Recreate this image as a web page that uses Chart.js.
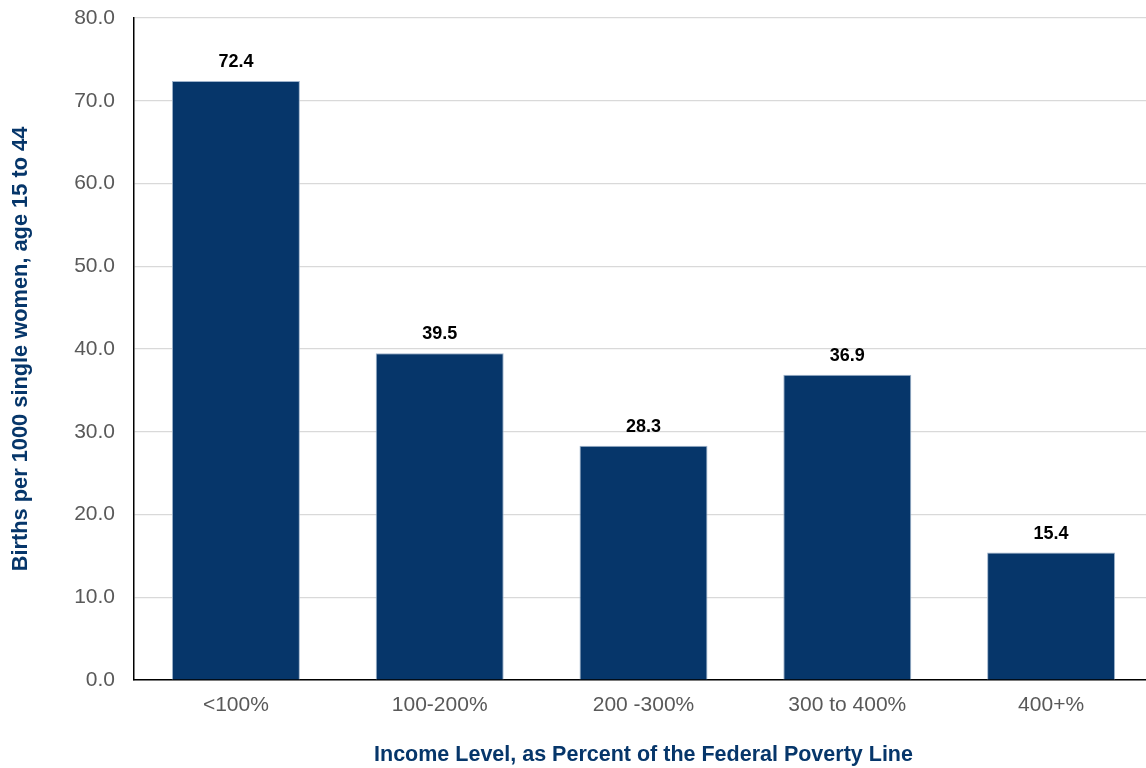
<!DOCTYPE html>
<html>
<head>
<meta charset="utf-8">
<script src="https://cdn.jsdelivr.net/npm/chart.js@4"></script>
<style>
  html, body { margin: 0; padding: 0; background: #fff; overflow: hidden; }
  #wrap { width: 1153px; height: 768px; }
</style>
</head>
<body>
<div id="wrap"><canvas id="grafico"></canvas></div>
<script>
// ===== DADOS =====
const categorias = ["<100%", "100-200%", "200 -300%", "300 to 400%", "400+%"];
const nascimentos = [72.4, 39.5, 28.3, 36.9, 15.4];
const tituloX = "Income Level, as Percent of the Federal Poverty Line";
const tituloY = "Births per 1000 single women, age 15 to 44";

const AZUL = "#06366a";
const FONTE = "'Liberation Sans', Arial, sans-serif";

// rótulos acima das barras
const rotulos = {
  id: "rotulos",
  afterDatasetsDraw(chart) {
    const ctx = chart.ctx;
    const meta = chart.getDatasetMeta(0);
    ctx.save();
    ctx.font = "bold 18px " + FONTE;
    ctx.fillStyle = "#000";
    ctx.textAlign = "center";
    ctx.textBaseline = "middle";
    meta.data.forEach((bar, i) => {
      ctx.fillText(nascimentos[i].toFixed(1), bar.x, bar.y - 19);
    });
    ctx.restore();
  }
};

new Chart(document.getElementById("grafico"), {
  type: "bar",
  data: {
    labels: categorias,
    datasets: [{
      data: nascimentos,
      backgroundColor: AZUL,
      borderColor: "#9fb4cc",
      borderWidth: 1,
      categoryPercentage: 0.628,
      barPercentage: 1.0,
    }]
  },
  options: {
    responsive: true,
    maintainAspectRatio: false,
    animation: false,
    layout: { padding: { top: 18, right: 0, left: 0, bottom: 0 } },
    plugins: {
      legend: { display: false },
      tooltip: { enabled: false },
    },
    scales: {
      x: {
        grid: { display: false, drawTicks: false },
        border: { color: "#000", width: 1.5 },
        ticks: { color: "#595959", font: { family: FONTE, size: 21 }, padding: 13 },
        title: {
          display: true,
          text: tituloX,
          color: AZUL,
          font: { family: FONTE, size: 21.5, weight: "bold" },
          padding: { top: 24, bottom: 0 },
        },
        afterFit: (s) => { s.height = 88; },
      },
      y: {
        min: 0,
        max: 80,
        ticks: {
          stepSize: 10,
          color: "#595959",
          font: { family: FONTE, size: 21 },
          padding: 19,
          callback: (v) => v.toFixed(1),
        },
        grid: { color: "#d9d9d9", lineWidth: 1.2, drawTicks: false },
        border: { color: "#000", width: 1.5 },
        title: {
          display: true,
          text: tituloY,
          color: AZUL,
          font: { family: FONTE, size: 21.8, weight: "bold" },
          padding: { top: 8, bottom: 8 },
        },
        afterFit: (s) => { s.width = 134; s.paddingTop = 0; s.paddingBottom = 0; },
      },
    },
  },
  plugins: [rotulos],
});
</script>
</body>
</html>
